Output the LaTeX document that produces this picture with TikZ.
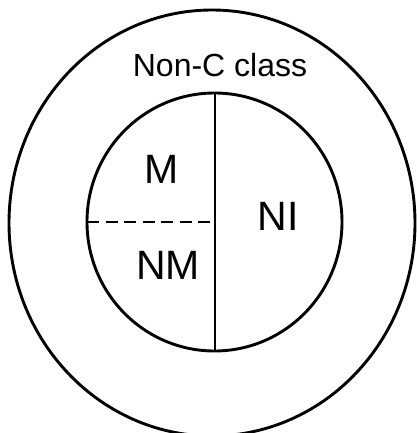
\documentclass[tikz,border=0pt]{standalone}
\usepackage{fontspec}
\setmainfont{Liberation Sans}
\usepackage{tikz}
\usetikzlibrary{positioning}

\begin{document}
\begin{tikzpicture}[x=1pt,y=-1pt,line width=2.9pt]
  \useasboundingbox (0,0) rectangle (416,433);
  \coordinate (outer) at (212,223);
  \coordinate (inner) at (214.5,222);
  \coordinate (top) at (215,93);
  \coordinate (bot) at (215,351);
  \coordinate (left) at (87,222);
  \draw (outer) ellipse [x radius=203, y radius=213];
  \draw (inner) ellipse [x radius=127.5, y radius=129];
  \draw (top)--(bot);
  \draw[dash pattern=on 12pt off 6.5pt] (left)--(inner);
  \node[anchor=base,font=\fontsize{32}{36}\selectfont] (nonc) at (220,77) {Non-C class};
  \node[anchor=base,font=\fontsize{41}{46}\selectfont] (m) at (162,183) {M};
  \node[anchor=base,font=\fontsize{41}{46}\selectfont] (ni) at (278,230) {NI};
  \node[anchor=base,font=\fontsize{41}{46}\selectfont] (nm) at (168,279) {NM};
\end{tikzpicture}
\end{document}
